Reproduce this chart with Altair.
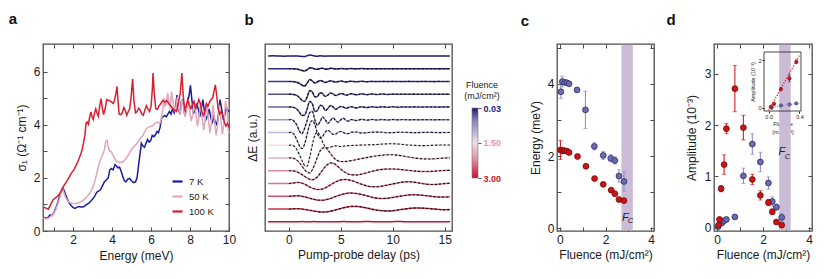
import altair as alt
import pandas as pd

FONT = "Liberation Sans"
INK = "#1a1a1a"
FRAME = "#4d4d4d"
H = 187

# ---------------- panel a : optical conductivity ----------------
TEMPS = ["7 K", "50 K", "100 K"]
TEMP_COLORS = ["#1b1ba0", "#e2a5b9", "#d81f2f"]

SIGMA_7K = [(0.47,0.52),(0.6,0.48),(0.7,0.5),(0.8,0.6),(0.9,0.58),(1.0,0.68),(1.1,0.85),(1.2,1.05),(1.3,1.3),(1.38,1.5),(1.45,1.62),(1.52,1.55),(1.6,1.38),(1.7,1.2),(1.8,1.05),(1.9,0.95),(2.0,0.88),(2.1,0.85),(2.2,0.9),(2.3,0.92),(2.4,0.9),(2.5,0.9),(2.6,0.95),(2.7,1.0),(2.8,1.05),(2.9,1.12),(3.0,1.2),(3.1,1.3),(3.2,1.45),(3.3,1.5),(3.4,1.55),(3.5,1.7),(3.6,1.85),(3.7,1.92),(3.8,2.0),(3.88,2.3),(3.96,2.35),(4.05,2.3),(4.15,2.5),(4.22,2.45),(4.3,2.38),(4.38,2.4),(4.46,2.25),(4.55,2.05),(4.62,1.9),(4.7,1.85),(4.8,1.95),(4.9,1.98),(5.0,1.88),(5.1,1.82),(5.2,1.85),(5.28,2.0),(5.36,2.5),(5.44,2.95),(5.5,3.3),(5.58,3.2),(5.66,3.15),(5.74,3.3),(5.82,3.45),(5.9,3.35),(5.98,3.4),(6.06,3.6),(6.14,3.55),(6.22,3.62),(6.3,3.75),(6.38,3.7),(6.46,3.9),(6.54,4.25),(6.62,4.3),(6.7,4.35),(6.78,4.3),(6.86,4.4),(6.94,4.5),(7.02,4.4),(7.1,4.6),(7.18,4.45),(7.26,4.7),(7.33,5.12),(7.4,4.6),(7.48,4.4),(7.56,4.9),(7.64,4.95),(7.72,4.4),(7.8,4.55),(7.88,4.9),(7.95,5.1),(8.02,5.48),(8.1,4.9),(8.18,4.45),(8.26,4.5),(8.34,4.8),(8.42,4.6),(8.5,4.3),(8.58,4.6),(8.66,4.95),(8.74,4.5),(8.82,4.2),(8.9,4.35),(8.98,4.6),(9.06,4.3),(9.14,4.05),(9.22,4.3),(9.3,4.1),(9.38,4.0),(9.46,4.4),(9.54,4.95),(9.62,4.6),(9.7,4.25),(9.78,4.35),(9.86,4.65),(9.94,4.5),(10.0,4.55)]

SIGMA_50K = [(0.47,0.5),(0.6,0.45),(0.72,0.48),(0.85,0.55),(0.97,0.62),(1.1,0.8),(1.2,1.0),(1.3,1.2),(1.38,1.45),(1.45,1.6),(1.52,1.45),(1.6,1.28),(1.7,1.15),(1.8,1.08),(1.95,1.04),(2.1,1.03),(2.25,1.05),(2.4,1.1),(2.55,1.18),(2.7,1.28),(2.85,1.42),(3.0,1.62),(3.1,1.85),(3.2,2.12),(3.3,2.45),(3.4,2.7),(3.5,2.85),(3.6,3.05),(3.68,3.38),(3.74,3.42),(3.8,3.15),(3.88,3.0),(3.96,2.98),(4.05,2.85),(4.15,2.7),(4.25,2.6),(4.4,2.58),(4.55,2.6),(4.7,2.72),(4.85,2.88),(5.0,3.08),(5.15,3.2),(5.3,3.32),(5.45,3.48),(5.6,3.62),(5.75,3.85),(5.9,3.92),(6.05,3.95),(6.2,4.05),(6.35,4.1),(6.45,4.05),(6.52,4.2),(6.6,4.6),(6.66,5.0),(6.72,4.7),(6.78,4.8),(6.85,5.2),(6.92,4.85),(6.98,4.6),(7.05,5.25),(7.12,4.9),(7.2,4.5),(7.28,4.7),(7.35,5.05),(7.42,4.6),(7.5,4.4),(7.58,4.95),(7.66,4.7),(7.74,4.3),(7.82,4.5),(7.9,4.95),(7.98,4.5),(8.06,4.15),(8.14,4.4),(8.22,4.9),(8.3,4.4),(8.38,3.95),(8.46,4.3),(8.54,4.85),(8.62,4.3),(8.7,3.8),(8.78,4.2),(8.86,4.8),(8.94,4.25),(9.02,3.7),(9.1,4.1),(9.18,4.75),(9.26,4.15),(9.34,3.6),(9.42,4.0),(9.5,4.75),(9.58,4.2),(9.66,3.65),(9.74,4.05),(9.82,4.9),(9.9,4.6),(9.96,3.8),(10.0,3.7)]

SIGMA_100K = [(0.47,0.9),(0.6,0.86),(0.72,0.82),(0.85,1.0),(0.97,1.18),(1.1,1.26),(1.2,1.3),(1.3,1.4),(1.4,1.52),(1.5,1.68),(1.66,1.86),(1.8,2.04),(1.91,2.18),(2.05,2.32),(2.17,2.5),(2.3,2.72),(2.43,2.98),(2.52,3.28),(2.6,3.6),(2.66,4.05),(2.72,4.1),(2.78,4.02),(2.85,4.3),(2.91,4.48),(2.97,4.3),(3.03,4.2),(3.1,4.45),(3.16,4.6),(3.22,4.45),(3.29,4.32),(3.36,4.7),(3.43,4.98),(3.5,4.6),(3.56,4.38),(3.64,4.6),(3.72,4.95),(3.8,4.92),(3.89,4.9),(3.97,4.85),(4.06,4.8),(4.13,4.95),(4.2,5.2),(4.25,5.45),(4.3,4.9),(4.36,4.4),(4.45,4.38),(4.52,4.45),(4.6,4.65),(4.67,4.55),(4.75,4.36),(4.83,4.5),(4.9,4.6),(4.97,5.0),(5.05,5.72),(5.12,4.9),(5.2,4.45),(5.28,4.5),(5.36,4.62),(5.44,4.55),(5.52,4.4),(5.6,4.36),(5.68,4.55),(5.76,4.72),(5.84,4.6),(5.92,4.5),(6.0,4.7),(6.06,5.3),(6.1,5.95),(6.16,5.2),(6.24,4.6),(6.32,4.58),(6.4,4.7),(6.5,4.8),(6.6,4.92),(6.7,4.85),(6.8,4.92),(6.9,4.8),(7.0,4.72),(7.1,4.62),(7.2,4.55),(7.3,4.5),(7.4,4.8),(7.5,5.2),(7.58,5.95),(7.65,5.1),(7.72,4.6),(7.8,4.7),(7.88,4.95),(7.96,4.75),(8.04,4.6),(8.12,4.75),(8.2,4.88),(8.28,4.62),(8.36,4.72),(8.45,4.95),(8.53,4.8),(8.6,4.5),(8.68,4.35),(8.76,4.5),(8.84,4.8),(8.92,4.7),(9.0,4.85),(9.08,4.95),(9.16,5.0),(9.24,5.3),(9.3,5.5),(9.37,5.1),(9.44,4.6),(9.52,4.4),(9.6,4.5),(9.68,4.35),(9.76,4.1),(9.84,3.95),(9.92,4.05),(10.0,3.9)]

# ---------------- panel b : transients ----------------
DELAY = [-2, -1.5, -1, -0.5, 0, 0.25, 0.5, 0.75, 1, 1.25, 1.5, 1.75, 2, 2.25, 2.5, 2.75,
         3, 3.25, 3.5, 3.75, 4, 4.25, 4.5, 4.75, 5, 5.25, 5.5, 5.75, 6, 6.5, 7, 7.5, 8,
         8.5, 9, 9.5, 10, 10.5, 11, 11.5, 12, 12.5, 13, 13.5, 14, 14.5, 15, 15.5]
FLUENCE_B = [0.03, 0.1, 0.2, 0.3, 0.4, 0.75, 1.1, 1.5, 1.9, 2.25, 2.4, 2.6, 2.8, 3.0]
TRACE_01 = [0,0.2,0,-0.2, 0,0.1,0,0, -0.2,-0.4,-0.6,0.2, 0.9,0.6,0.1,-0.2, 0.2,0,-0.2,0.1, 0.1,-0.1,0,0.1, 0,-0.1,0,0.1, 0, 0.1,-0.1,0,0.1, 0,-0.1,0.1,0, 0,0.1,-0.1,0, 0.1,0,-0.1,0, 0.1,0,0]
TRACE_02 = [0,0.1,-0.1,0, 0,0,-0.1,-0.3, -0.9,-1.8,-2.2,-1.0, 0.8,0.7,-0.3,-0.6, 0.3,0.5,-0.4,-0.3, 0.4,0.2,-0.3,-0.1, 0.3,0,-0.2,0.1, 0.2, -0.1,0.2,-0.1,0.1, -0.1,0.1,0,-0.1, 0.1,0,-0.1,0.1, 0,-0.1,0.1,0, -0.1,0.1,0]
TRACE_03 = [0,-0.1,0.1,0, 0,0,-0.2,-0.7, -1.8,-3.6,-4.6,-1.8, 2.0,0.6,-1.4,-0.4, 1.0,0.2,-1.0,-0.2, 0.7,0.1,-0.6,-0.1, 0.5,0,-0.4,0, 0.3, -0.3,0.2,-0.2,0.1, -0.1,0.1,-0.1,0.1, 0,-0.1,0.1,0, -0.1,0.1,0,-0.1, 0.1,0,0]
TRACE_04 = [0,0.1,-0.1,0, 0,0.1,-0.4,-1.2, -3.2,-6.0,-7.2,-3.0, 3.6,2.4,-2.6,-2.2, 1.6,0.6,-2.2,-0.8, 1.2,0.4,-1.3,-0.4, 0.8,0.2,-0.9,-0.2, 0.6, -0.6,0.4,-0.4,0.3, -0.3,0.2,-0.2,0.1, -0.1,0.1,-0.1,0.1, 0,-0.1,0.1,0, -0.1,0.1,0]
TRACE_05 = [0,-0.1,0.1,0, 0,0.1,-0.6,-2.0, -5.0,-8.4,-8.2,-2.0, 5.6,3.4,-4.4,-3.6, 1.8,0.8,-3.4,-1.6, 1.4,0.2,-2.4,-0.9, 0.5,0,-1.3,-0.4, 0.3, -0.9,0.3,-0.6,0.3, -0.4,0.2,-0.3,0.2, -0.2,0.1,-0.1,0.1, 0,-0.1,0.1,0, -0.1,0.1,0]
TRACE_06 = [0,0.1,-0.1,0, 0,0.2,-1.5,-5.0, -11.0,-14.0,-9.0,-1.0, 7.0,8.5,0.0,-5.6, -2.0,2.8,0.0,-3.8, -0.8,1.8,-0.6,-2.4, 0,1.4,-0.6,-1.4, 0.2, -0.8,0.4,-0.5,0.3, -0.3,0.2,-0.3,0.2, -0.1,0.2,-0.1,0.1, -0.1,0.1,0,-0.1, 0.1,0,0]
TRACE_07 = [0,-0.1,0.1,0, 0,0.2,-2.0,-7.0, -13.0,-16.0,-12.0,-2.0, 8.0,12.0,8.0,-1.0, -5.5,-4.0,0.5,2.0, 0.5,-1.8,-1.5,0.3, 1.0,0,-1.2,-1.0, 0.2, 0.5,-0.6,-0.2,0.3, 0.4,0.2,-0.2,-0.1, 0.2,0.3,0,-0.2, -0.1,0.1,0.2,0, -0.1,0,0.1]
TRACE_08 = [0,0.1,-0.1,0, 0,0.2,-1.0,-4.0, -9.0,-15.0,-20.0,-21.0, -12.0,0.0,10.0,13.0, 9.0,3.0,-1.5,-2.5, -2.0,-1.0,-0.6,-1.0, -1.2,-1.0,-0.6,-0.4, -0.3, 0,0.2,0.3,0.5, 0.8,1.2,1.4,1.5, 1.2,0.8,0.3,0, -0.3,-0.4,-0.2,0, 0.2,0.3,0.2]
TRACE_09 = [0,-0.1,0.1,0, 0,0.1,-0.5,-2.0, -4.5,-8.0,-11.5,-14.0, -15.0,-12.0,-6.0,1.0, 7.0,10.0,10.5,8.0, 4.5,1.0,-1.5,-3.0, -3.5,-3.6,-3.4,-3.0, -2.6, -1.6,-0.6,0.4,1.4, 2.2,2.8,3.2,3.2, 2.8,2.0,1.0,0.2, -0.5,-0.9,-1.0,-0.8, -0.4,0,0.3]
TRACE_10 = [0,0.1,-0.1,0, 0,0,-0.3,-1.0, -2.2,-3.8,-5.5,-7.2, -8.5,-9.0,-8.2,-6.0, -2.8,0.8,4.0,6.5, 7.8,7.6,6.2,4.0, 1.6,-0.6,-2.2,-3.4, -4.0, -4.2,-3.4,-2.0,-0.6, 0.6,1.4,1.8,1.8, 1.5,1.0,0.4,-0.2, -0.6,-0.8,-0.7,-0.4, 0,0.3,0.4]
TRACE_11 = [0,-0.1,0.1,0, 0,0.2,0.6,1.0, 1.0,0.4,-0.6,-2.0, -3.4,-4.6,-5.5,-6.0, -6.0,-5.4,-4.4,-3.0, -1.4,0.2,1.6,2.8, 3.6,4.0,4.0,3.6, 3.0, 1.2,-0.8,-2.4,-3.2, -3.2,-2.6,-1.6,-0.4, 0.6,1.4,1.7,1.4, 0.6,-0.3,-0.9,-1.0, -0.6,-0.1,0.3]
TRACE_12 = [0,0.1,-0.1,0, 0,0.1,0.3,0.5, 0.4,0,-0.6,-1.3, -2.0,-2.7,-3.3,-3.8, -4.0,-4.0,-3.6,-3.0, -2.2,-1.2,-0.3,0.6, 1.5,2.2,2.8,3.2, 3.3, 2.8,1.8,0.4,-1.0, -2.0,-2.3,-2.0,-1.2, -0.2,0.6,1.2,1.5, 1.3,0.8,0.2,-0.4, -0.7,-0.8,-0.6]
TRACE_13 = [0,-0.1,0.1,0, 0,0.1,0.2,0.3, 0.2,0,-0.4,-0.8, -1.3,-1.8,-2.3,-2.6, -2.9,-3.0,-3.0,-2.7, -2.2,-1.6,-0.9,-0.2, 0.5,1.2,1.8,2.3, 2.6, 2.6,2.0,1.0,-0.2, -1.2,-1.8,-2.0,-1.7, -1.0,-0.2,0.5,0.9, 1.0,0.8,0.4,-0.1, -0.5,-0.7,-0.6]
TRACE_14 = [0,0.1,-0.1,0, 0,0.1,0,-0.1, 0,0.2,0.1,-0.1, 0,0.1,0.2,0, -0.1,0,0.1,0, 0.1,0,-0.1,0, 0.1,0.2,0.1,0, -0.1, 0,0.1,0.2,0.1, 0,-0.1,0,0.1, 0.2,0.1,0,-0.1, 0,0.1,0,-0.1, 0,0.1,0]
TRACES = [TRACE_01, TRACE_02, TRACE_03, TRACE_04, TRACE_05, TRACE_06, TRACE_07,
          TRACE_08, TRACE_09, TRACE_10, TRACE_11, TRACE_12, TRACE_13, TRACE_14]
FITTED = [1, 2, 3, 4, 5, 6, 7, 8, 9, 10, 11, 12]

CB_STOPS = [0.03, 0.6, 1.5, 2.25, 3.0]
CB_COLORS = ["#1c1c72", "#8a88c2", "#eedfe9", "#e08a9e", "#c8102a"]
CB_TICKS = [0.03, 1.5, 3.0]

# ---------------- panel c : mode energies ----------------
C_HI_F = [0.04, 0.1, 0.2, 0.3, 0.4, 0.75, 1.12, 1.51, 1.9, 2.23, 2.41, 2.59, 2.81]
C_HI_E = [3.78, 4.06, 4.04, 4.03, 4.0, 3.83, 3.28, 2.27, 2.02, 1.94, 1.88, 1.45, 1.3]
C_HI_ERR = [0.19, 0.15, 0.06, 0.05, 0.04, 0.05, 0.52, 0.1, 0.11, 0.1, 0.1, 0.17, 0.27]
C_LO_F = [0.02, 0.12, 0.2, 0.3, 0.4, 0.77, 1.14, 1.52, 1.9, 2.25, 2.41, 2.59, 2.81]
C_LO_E = [2.17, 2.15, 2.15, 2.14, 2.1, 1.99, 1.72, 1.38, 1.22, 1.06, 0.96, 0.8, 0.77]
C_LO_ERR = [0.26, 0.08, 0.05, 0.04, 0.03, 0.03, 0.03, 0.03, 0.03, 0.03, 0.03, 0.03, 0.03]

# ---------------- panel d : amplitudes ----------------
D_LO_F = [0.06, 0.1, 0.17, 0.3, 0.4, 0.77, 1.14, 1.53, 1.88, 2.23, 2.4, 2.58, 2.81]
D_LO_A = [0.05, 0.16, 0.76, 1.23, 1.93, 2.71, 1.95, 0.94, 0.63, 0.49, 0.31, 0.11, 0.05]
D_LO_ERR = [0.03, 0.04, 0.06, 0.19, 0.1, 0.45, 0.24, 0.1, 0.09, 0.06, 0.05, 0.03, 0.03]
D_HI_F = [0.04, 0.2, 0.28, 0.4, 0.77, 1.14, 1.53, 1.88, 2.23, 2.4, 2.58, 2.81]
D_HI_A = [0.02, 0.09, 0.13, 0.16, 0.21, 1.01, 1.63, 1.28, 0.87, 0.51, 0.4, 0.2]
D_HI_ERR = [0.02, 0.02, 0.02, 0.02, 0.03, 0.15, 0.2, 0.19, 0.12, 0.09, 0.06, 0.08]
IN_LO_F = [0.03, 0.07, 0.16, 0.27, 0.36]
IN_LO_A = [0.04, 0.16, 0.78, 1.23, 1.93]
IN_LO_ERR = [0.03, 0.04, 0.07, 0.15, 0.08]
IN_HI_F = [0.04, 0.16, 0.27, 0.36]
IN_HI_A = [0.0, 0.09, 0.13, 0.18]
IN_HI_ERR = [0.02, 0.02, 0.03, 0.03]
IN_FIT_F = [0.0, 0.4]
IN_FIT_LO = [-0.12, 2.2]
IN_FIT_HI = [0.0, 0.19]

SERIES = ["hi", "lo"]
SER_FILL = ["#6b6bb0", "#cc1414"]
SER_STROKE = ["#2a2a66", "#6e0a0a"]
SER_ERR = ["#8e8ec8", "#d42020"]
BAND = [2.7, 3.2]
BAND_COLOR = "#cbbbd7"

ONE = pd.DataFrame({"k": [0]})


def grid_axis(orient, values, length, title=None, even=False, **kw):
    d = dict(orient=orient, values=values, grid=True, gridDash=[4, length - 8, 4, 400],
             gridColor=FRAME, gridWidth=1, gridOpacity=1, ticks=False, domain=False,
             labelFontSize=12, labelColor=INK, labelPadding=3, labelFlush=False,
             labelOverlap=False, titleFontSize=12, titleFontWeight="normal",
             titleColor=INK, titlePadding=5, title=title)
    if even:
        d["labelExpr"] = "datum.value % 2 == 0 ? datum.label : ''"
    d.update(kw)
    return alt.Axis(**d)


def panel_label(t, dx, dy):
    return alt.Chart(pd.DataFrame({"t": [t]})).mark_text(
        fontSize=15, fontWeight="bold", color="#111", align="center", baseline="middle"
    ).encode(text="t:N", x=alt.value(dx), y=alt.value(dy))


def spacer(w):
    return alt.Chart(ONE).mark_point(opacity=0).encode(
        x=alt.value(0), y=alt.value(0)
    ).properties(width=w, height=H, view=alt.ViewBackground(stroke="transparent"))


# ---------- a ----------
rows = []
for name, curve in zip(TEMPS, [SIGMA_7K, SIGMA_50K, SIGMA_100K]):
    for e, s in curve:
        rows.append({"T": name, "E": e, "s": s})
dfa = pd.DataFrame(rows)
sa_x = alt.Scale(domain=[0.45, 10], nice=False, zero=False)
sa_y = alt.Scale(domain=[0, 7.04], nice=False, zero=False)
pa_lines = alt.Chart(dfa).mark_line(strokeWidth=1.5).encode(
    x=alt.X("E:Q", scale=sa_x, axis=grid_axis("bottom", list(range(1, 11)), H, "Energy (meV)", even=True)),
    y=alt.Y("s:Q", scale=sa_y, axis=grid_axis("left", list(range(0, 7)), 186, "σ₁ (Ω⁻¹ cm⁻¹)", even=True, titlePadding=5)),
    color=alt.Color("T:N", scale=alt.Scale(domain=TEMPS, range=TEMP_COLORS),
                    legend=alt.Legend(orient="none", legendX=128, legendY=131, title=None,
                                      direction="vertical", symbolType="stroke",
                                      symbolStrokeWidth=2.2, symbolSize=100, labelFontSize=9.5,
                                      labelColor=INK, rowPadding=4, labelOffset=5, padding=0)),
)
pa = alt.layer(pa_lines, panel_label("a", -30, -25)).properties(width=186, height=H)

# ---------- b ----------
rows = []
for i, (F, tr) in enumerate(zip(FLUENCE_B, TRACES)):
    base = 175 - 12.75 * i
    for t, v in zip(DELAY, tr):
        rows.append({"id": i, "F": F, "t": t, "y": base + v, "fit": (i in FITTED) and t >= 0})
dfb = pd.DataFrame(rows)
sb_x = alt.Scale(domain=[-2.3, 15.7], nice=False, zero=False)
sb_y = alt.Scale(domain=[0, H], nice=False, zero=False)
b_xaxis = grid_axis("bottom", [0, 5, 10, 15], H, "Pump-probe delay (ps)", titlePadding=4)
b_yaxis = alt.Axis(title="ΔE (a.u.)", labels=False, ticks=False, domain=False,
                   grid=False, titlePadding=6, titleFontSize=12,
                   titleFontWeight="normal", titleColor=INK)
pb_data = alt.Chart(dfb).mark_line(strokeWidth=1.5, interpolate="monotone").encode(
    x=alt.X("t:Q", scale=sb_x, axis=b_xaxis),
    y=alt.Y("y:Q", scale=sb_y, axis=b_yaxis),
    color=alt.Color("F:Q", scale=alt.Scale(domain=CB_STOPS, range=CB_COLORS, interpolate="rgb"), legend=None),
    detail="id:N",
)
pb_fit = alt.Chart(dfb).transform_filter("datum.fit").mark_line(
    color="#111", strokeDash=[2.4, 1.8], strokeWidth=1.1, interpolate="monotone"
).encode(
    x=alt.X("t:Q", scale=sb_x, axis=b_xaxis),
    y=alt.Y("y:Q", scale=sb_y, axis=b_yaxis),
    detail="id:N",
)
pb = alt.layer(pb_data, pb_fit, panel_label("b", -16, -24)).properties(width=187, height=H)

# ---------- colour bar ----------
grad = alt.LinearGradient(
    gradient="linear",
    stops=[alt.GradientStop(color=c, offset=(v - CB_STOPS[0]) / (CB_STOPS[-1] - CB_STOPS[0]))
           for v, c in zip(CB_STOPS, CB_COLORS)],
    x1=0, x2=0, y1=0, y2=1,
)
bar_rect = alt.Chart(ONE).mark_rect(fill=grad, stroke="#777", strokeWidth=0.6).encode(
    x=alt.value(0), x2=alt.value(6),
    y=alt.YDatum(datum=CB_TICKS[0],
                 scale=alt.Scale(domain=[CB_TICKS[0], CB_TICKS[-1]], range=[64, 134], nice=False, zero=False),
                 axis=alt.Axis(orient="right", values=CB_TICKS, format=".2f", labelFontSize=9,
                               labelFontWeight="bold",
                               labelColor={"condition": [{"test": "datum.value < 1", "value": "#1c1c86"},
                                                         {"test": "datum.value < 2", "value": "#e896ae"}],
                                           "value": "#d01020"},
                               ticks=True, tickSize=3, tickColor="#555", domain=False, grid=False,
                               title=None, labelPadding=2)),
    y2=alt.Y2Datum(datum=CB_TICKS[-1]),
)
bar_t1 = alt.Chart(pd.DataFrame({"t": ["Fluence"]})).mark_text(fontSize=9, color="#222", align="center").encode(
    text="t:N", x=alt.value(10), y=alt.value(41))
bar_t2 = alt.Chart(pd.DataFrame({"t": ["(mJ/cm²)"]})).mark_text(fontSize=9, color="#222", align="center").encode(
    text="t:N", x=alt.value(10), y=alt.value(52))
pbar = alt.layer(bar_rect, bar_t1, bar_t2).properties(width=6, height=H, view=alt.ViewBackground(stroke="transparent"))


def points_df(specs):
    rows = []
    for s, F, V, E in specs:
        for f, v, e in zip(F, V, E):
            rows.append({"s": s, "F": f, "v": v, "lo": v - e, "hi": v + e})
    return pd.DataFrame(rows)


def point_layers(df, sx, sy, xaxis, yaxis, size=34, sw=0.8, cap=4):
    ecol = alt.Color("s:N", scale=alt.Scale(domain=SERIES, range=SER_ERR), legend=None)
    err = alt.Chart(df).mark_rule(strokeWidth=1.1).encode(
        x=alt.X("F:Q", scale=sx, axis=xaxis), y=alt.Y("lo:Q", scale=sy, axis=yaxis), y2="hi:Q",
        color=ecol)
    cap_lo = alt.Chart(df).mark_tick(orient="horizontal", size=cap, thickness=1).encode(
        x=alt.X("F:Q", scale=sx, axis=xaxis), y=alt.Y("lo:Q", scale=sy, axis=yaxis), color=ecol)
    cap_hi = alt.Chart(df).mark_tick(orient="horizontal", size=cap, thickness=1).encode(
        x=alt.X("F:Q", scale=sx, axis=xaxis), y=alt.Y("hi:Q", scale=sy, axis=yaxis), color=ecol)
    pts = alt.Chart(df).mark_circle(size=size, opacity=1, strokeWidth=sw).encode(
        x=alt.X("F:Q", scale=sx, axis=xaxis), y=alt.Y("v:Q", scale=sy, axis=yaxis),
        fill=alt.Fill("s:N", scale=alt.Scale(domain=SERIES, range=SER_FILL), legend=None),
        stroke=alt.Stroke("s:N", scale=alt.Scale(domain=SERIES, range=SER_STROKE), legend=None))
    return [err, cap_lo, cap_hi, pts]


def band_layer(sx, xaxis):
    return alt.Chart(ONE).mark_rect(color=BAND_COLOR).encode(
        x=alt.XDatum(datum=BAND[0], scale=sx, axis=xaxis), x2=alt.X2Datum(datum=BAND[1]),
        y=alt.value(0.7), y2=alt.value(H - 0.7))


def fc_layers(sx, sy, xaxis, yaxis, fx, fy, cx, cy):
    f = alt.Chart(ONE).mark_text(fontStyle="italic", fontSize=11, color="#222").encode(
        x=alt.XDatum(datum=fx, scale=sx, axis=xaxis), y=alt.YDatum(datum=fy, scale=sy, axis=yaxis),
        text=alt.value("F"))
    c = alt.Chart(ONE).mark_text(fontStyle="italic", fontSize=7.5, color="#222", align="left").encode(
        x=alt.XDatum(datum=cx, scale=sx, axis=xaxis), y=alt.YDatum(datum=cy, scale=sy, axis=yaxis),
        text=alt.value("C"))
    return [f, c]


# ---------- c ----------
dfc = points_df([("hi", C_HI_F, C_HI_E, C_HI_ERR), ("lo", C_LO_F, C_LO_E, C_LO_ERR)])
sc_x = alt.Scale(domain=[-0.13, 4.13], nice=False, zero=False)
sc_y = alt.Scale(domain=[-0.07, 5.1], nice=False, zero=False)
c_xaxis = grid_axis("bottom", [0, 1, 2, 3, 4], H, "Fluence (mJ/cm²)", even=True, titlePadding=4)
c_yaxis = grid_axis("left", [0, 1, 2, 3, 4, 5], 97, "Energy (meV)", even=True, titlePadding=5)
pc = alt.layer(
    band_layer(sc_x, c_xaxis),
    *point_layers(dfc, sc_x, sc_y, c_xaxis, c_yaxis),
    *fc_layers(sc_x, sc_y, c_xaxis, c_yaxis, 2.87, 0.3, 2.98, 0.2),
    panel_label("c", -32, -23),
).properties(width=97, height=H)

# ---------- d ----------
dfd = points_df([("hi", D_HI_F, D_HI_A, D_HI_ERR), ("lo", D_LO_F, D_LO_A, D_LO_ERR)])
sd_x = alt.Scale(domain=[-0.14, 4.13], nice=False, zero=False)
sd_y = alt.Scale(domain=[-0.065, 3.58], nice=False, zero=False)
d_xaxis = grid_axis("bottom", [0, 1, 2, 3, 4], H, "Fluence (mJ/cm²)", even=True, titlePadding=4)
d_yaxis = grid_axis("left", [0, 1, 2, 3], 98, "Amplitude (10⁻³)", titlePadding=6)
d_main = alt.layer(
    band_layer(sd_x, d_xaxis),
    *point_layers(dfd, sd_x, sd_y, d_xaxis, d_yaxis),
    *fc_layers(sd_x, sd_y, d_xaxis, d_yaxis, 2.82, 1.48, 2.94, 1.38),
    panel_label("d", -43, -24),
)

dfi = points_df([("hi", IN_HI_F, IN_HI_A, IN_HI_ERR), ("lo", IN_LO_F, IN_LO_A, IN_LO_ERR)])
si_x = alt.Scale(domain=[-0.06, 0.42], range=[50, 87], nice=False, zero=False)
si_y = alt.Scale(domain=[-0.14, 2.34], range=[67, 8], nice=False, zero=False)
dffit = pd.DataFrame(
    [{"s": "hi", "F": f, "v": v} for f, v in zip(IN_FIT_F, IN_FIT_HI)]
    + [{"s": "lo", "F": f, "v": v} for f, v in zip(IN_FIT_F, IN_FIT_LO)])
in_xaxis = alt.Axis(orient="bottom", offset=-120, values=[0, 0.4], format=".1f", labelFontSize=5.5,
                    labelPadding=1, ticks=True, tickSize=2, tickColor=INK, labelColor=INK, domain=False,
                    grid=False, title=["Fluence", "(mJ/cm²)"], titleFontSize=5.5, titleFontWeight="normal",
                    titleColor=INK, titlePadding=2, labelFlush=False)
in_yaxis = alt.Axis(orient="left", offset=-50, values=[0, 2], format="d", labelFontSize=5.5,
                    labelPadding=1, ticks=True, tickSize=2, tickColor=INK, labelColor=INK, domain=False,
                    grid=False, title="Amplitude (10⁻³)", titleFontSize=5.5, titleFontWeight="normal",
                    titleColor=INK, titlePadding=2)
in_frame = alt.Chart(ONE).mark_rect(fillOpacity=0, stroke="#333", strokeWidth=0.9).encode(
    x=alt.XDatum(datum=-0.06, scale=si_x, axis=in_xaxis), x2=alt.X2Datum(datum=0.42),
    y=alt.YDatum(datum=-0.14, scale=si_y, axis=in_yaxis), y2=alt.Y2Datum(datum=2.34))
in_fit = alt.Chart(dffit).mark_line(strokeDash=[1.4, 1.4], strokeWidth=1.1).encode(
    x=alt.X("F:Q", scale=si_x, axis=in_xaxis), y=alt.Y("v:Q", scale=si_y, axis=in_yaxis),
    color=alt.Color("s:N", scale=alt.Scale(domain=SERIES, range=SER_ERR), legend=None))
d_inset = alt.layer(in_frame, in_fit, *point_layers(dfi, si_x, si_y, in_xaxis, in_yaxis, size=12, sw=0.5, cap=2))

pdd = alt.layer(d_main, d_inset).resolve_scale(x="independent", y="independent").properties(width=98, height=H)

chart = alt.hconcat(
    pa, spacer(24), pb, spacer(8), pbar, spacer(67), pc, spacer(48), pdd,
    spacing=6, bounds="flush",
).properties(
    padding={"left": 0, "top": 3, "right": 4, "bottom": 4}
).configure(font=FONT).configure_view(stroke=FRAME, strokeWidth=1.3)

chart.save("out.html", embed_options={"renderer": "svg", "actions": False})
